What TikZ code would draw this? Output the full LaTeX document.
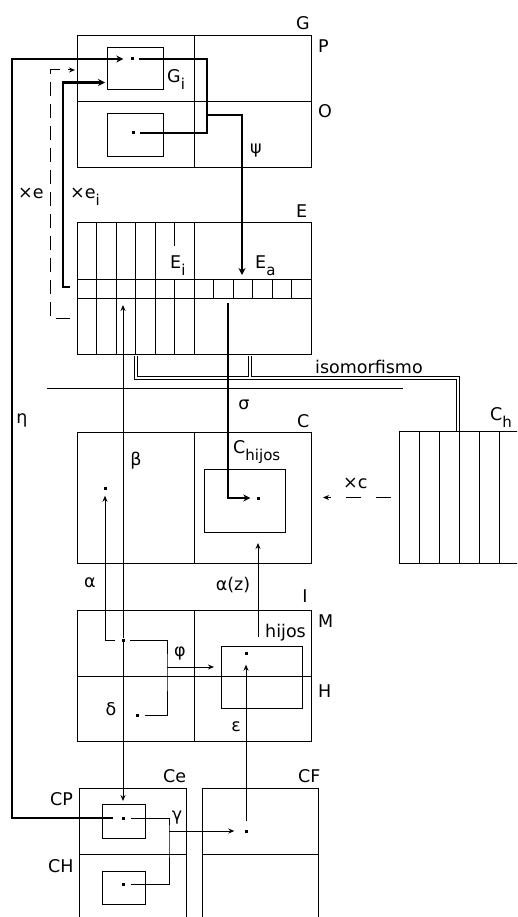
\documentclass[tikz,border=0pt]{standalone}
\usepackage{fontspec}
\setmainfont{DejaVu Sans}
\usetikzlibrary{arrows.meta,positioning,calc}
\newcommand{\lowtxt}[1]{\raisebox{-7pt}{\fontsize{15}{15}\selectfont #1}}
\tikzset{
  thinBox/.style={draw, line width=1pt, inner sep=0pt, anchor=north west},
  dotMark/.style={fill, rectangle, minimum size=3pt, inner sep=0pt},
  thinLine/.style={line width=1pt},
  thinArrow/.style={-{Stealth[length=6pt,width=5pt]}, line width=1pt},
  thickLine/.style={line width=2.6pt},
  thickArrow/.style={-{Stealth[length=7pt,width=7pt]}, line width=2.6pt},
  dashArrow/.style={-{Stealth[length=6pt,width=5pt]}, line width=1pt, dash pattern=on 14pt off 8pt},
  isoLine/.style={double, double distance=1.8pt, line width=0.9pt},
  boxLabel/.style={font=\fontsize{17.5}{20}\selectfont, inner sep=0pt, anchor=base west},
  greekLabel/.style={font=\fontsize{17.5}{20}\selectfont, inner sep=0pt}
}
\begin{document}
\begin{tikzpicture}[x=1pt, y=-1pt]
  \fill[white] (0,0) rectangle (517,917);
  \useasboundingbox (0,0) rectangle (517,917);
  \clip (0,0) rectangle (517,917);

  % bend points
  \coordinate (etaX) at (12,59);
  \coordinate (psiX) at (207,115);
  \coordinate (Ea) at (242,275);
  \coordinate (eiS) at (70,287);
  \coordinate (eiX) at (63,287);
  \coordinate (eS) at (70,318);
  \coordinate (eX) at (50,318);
  \coordinate (isoRow) at (0,378);
  \coordinate (sepL) at (47,388);
  \coordinate (sepR) at (403,388);
  \coordinate (sigS) at (228,303);
  \coordinate (betaT) at (123,305);
  \coordinate (phiX) at (167,667);
  \coordinate (hijS) at (258,637);
  \coordinate (gamX) at (169,831);

  % outer boxes
  \node[thinBox, minimum width=234pt, minimum height=132pt] (G) at (77,35) {};
  \node[thinBox, minimum width=234pt, minimum height=132pt] (E) at (77,222) {};
  \node[thinBox, minimum width=234pt, minimum height=131pt] (C) at (77,432) {};
  \node[thinBox, minimum width=234pt, minimum height=131pt] (I) at (77,610) {};
  \node[thinBox, minimum width=107pt, minimum height=150pt] (Ce) at (79,788) {};
  \node[thinBox, minimum width=116pt, minimum height=150pt] (CF) at (202,788) {};
  \node[thinBox, minimum width=140pt, minimum height=132pt] (Ch) at (399,431) {};

  % isomorfismo
  \coordinate (isoA) at ([xshift=59pt]E.south west);
  \coordinate (isoB) at ([xshift=59pt]Ch.north west);
  \coordinate (isoC) at ([xshift=173pt]E.south west);
  \draw[isoLine, shorten <=0.5pt, shorten >=0.5pt] (isoA) -- (isoA |- isoRow) -| (isoB);
  \draw[isoLine, shorten <=0.5pt, shorten >=1.4pt] (isoC) -- (isoC |- isoRow);

  % dividers
  \draw[thinLine] (G.north) -- (G.south) (G.west) -- (G.east);
  \draw[thinLine] (C.north) -- (C.south);
  \draw[thinLine] (I.north) -- (I.south) (I.west) -- (I.east);
  \draw[thinLine] ([yshift=-66pt]Ce.north west) -- ([yshift=-66pt]Ce.north east);
  \draw[thinLine] ([yshift=-66pt]CF.north west) -- ([yshift=-66pt]CF.north east);
  \draw[thinLine] ([yshift=9.5pt]E.west) -- ([yshift=9.5pt]E.east)
                  ([yshift=-9.5pt]E.west) -- ([yshift=-9.5pt]E.east);
  \foreach \k in {1,2,3,4,6}
    \draw[thinLine] ([xshift=\k*19.5pt]E.north west) -- ([xshift=\k*19.5pt]E.south west);
  \draw[thinLine] ([xshift=97.5pt]E.north west) -- ++(0,24)
                  ([xshift=97.5pt,yshift=9.5pt]E.west) -- ([xshift=97.5pt]E.south west);
  \foreach \k in {7,...,11}
    \draw[thinLine] ([xshift=\k*19.5pt,yshift=9.5pt]E.west) -- ([xshift=\k*19.5pt,yshift=-9.5pt]E.west);
  \foreach \k in {1,...,5}
    \draw[thinLine] ([xshift=\k*20pt]Ch.north west) -- ([xshift=\k*20pt]Ch.south west);

  % inner boxes
  \node[thinBox, minimum width=56pt, minimum height=42pt] (Gi) at (107,47) {};
  \node[thinBox, minimum width=56pt, minimum height=43pt] (Go) at (107,113) {};
  \node[thinBox, minimum width=81pt, minimum height=63pt] (Chij) at (204,469) {};
  \node[thinBox, minimum width=81pt, minimum height=62pt] (Ih) at (221,646) {};
  \node[thinBox, minimum width=43pt, minimum height=34pt] (CPi) at (102,804) {};
  \node[thinBox, minimum width=43pt, minimum height=33pt] (CHi) at (102,871) {};

  % dots
  \node[dotMark] (dGi) at (132,59) {};
  \node[dotMark] (dGo) at (133,133) {};
  \node[dotMark] (dCa) at (105,488) {};
  \node[dotMark] (dChij) at (258,498) {};
  \node[dotMark] (dM) at (123,640) {};
  \node[dotMark] (dH) at (137,715) {};
  \node[dotMark] (dI) at (246,653) {};
  \node[dotMark] (dCP) at (123,818) {};
  \node[dotMark] (dCH) at (123,884) {};
  \node[dotMark] (dCF) at (246,831) {};

  % thick connectors
  \draw[thickArrow, shorten <=8pt, shorten >=7pt] (dCP) -| (etaX) -- (dGi);
  \draw[thickLine, shorten <=5pt, shorten >=5pt] (dGo) -| (psiX) |- (dGi);
  \draw[thickArrow] (psiX) -| (Ea);
  \draw[thickArrow] (eiS) -- (eiX) |- ([xshift=-2pt,yshift=-14pt]Gi.west);
  \draw[dashArrow] (eS) -- (eX) |- ([xshift=-2pt,yshift=-35pt]G.north west);
  \draw[thickArrow, shorten >=6pt] (sigS) |- (dChij);
  \draw[thinLine] (sepL) -- (sepR);
  \coordinate (xcT) at ([xshift=11pt]C.east);
  \draw[dashArrow, dash pattern=on 15pt off 15pt, dash phase=22pt] (Ch.west) -- (Ch.west -| xcT);

  % thin connectors
  \draw[thinArrow, shorten >=6pt] ([xshift=-8pt]dM.center) -| (dCa);
  \draw[thinArrow] (dM) -- (betaT);
  \draw[thinArrow, shorten >=3pt] (dM) -- (dM |- CPi.north);
  \draw[thinLine] ([xshift=7pt]dM.center) -| (phiX) |- ([xshift=8pt]dH.center);
  \draw[thinArrow, shorten >=7pt] (phiX) -- (phiX -| Ih.west);
  \draw[thinArrow, shorten >=10pt] (hijS) -- (hijS |- Chij.south);
  \draw[thinArrow, shorten <=8pt, shorten >=10pt] (dCF) -- (dI);
  \draw[thinLine] ([xshift=8pt]dCP.center) -| (gamX) |- ([xshift=8pt]dCH.center);
  \draw[thinArrow, shorten >=10pt] (gamX) -- (dCF);

  % labels
  \node[boxLabel] (lG) at (296,30) {G};
  \node[boxLabel] (lP) at (318,53) {P};
  \node[boxLabel] (lO) at (318,118) {O};
  \node[boxLabel] (lGi) at (167,83) {G\lowtxt{i}};
  \node[greekLabel] (lPsi) at (256,151) {ψ};
  \node[boxLabel] (lXe) at (18,199) {×e};
  \node[boxLabel] (lXei) at (70,199) {×e\lowtxt{i}};
  \node[boxLabel] (lE) at (296,218) {E};
  \node[boxLabel] (lEi) at (170,268) {E\lowtxt{i}};
  \node[boxLabel] (lEa) at (255,268) {E\lowtxt{a}};
  \node[boxLabel] (lIso) at (315,373) {isomorfismo};
  \node[greekLabel] (lSigma) at (244,405) {σ};
  \node[greekLabel] (lEta) at (22,420) {η};
  \node[boxLabel] (lC) at (297,427) {C};
  \node[boxLabel] (lChij) at (233,453) {C\lowtxt{hijos}};
  \node[greekLabel] (lBeta) at (136,461) {β};
  \node[boxLabel] (lCh) at (490,420) {C\lowtxt{h}};
  \node[boxLabel] (lXc) at (343,488) {×c};
  \node[greekLabel] (lAlpha) at (90,583) {α};
  \node[greekLabel] (lAlz) at (233,585) {α(z)};
  \node[greekLabel] (lI) at (305,596) {I};
  \node[boxLabel] (lM) at (318,627) {M};
  \node[boxLabel] (lHij) at (265,637) {hijos};
  \node[greekLabel] (lPhi) at (180,653) {φ};
  \node[boxLabel] (lH) at (318,697) {H};
  \node[greekLabel] (lDelta) at (111,709) {δ};
  \node[greekLabel] (lEps) at (236,727) {ε};
  \node[boxLabel] (lCe) at (163,782) {Ce};
  \node[boxLabel] (lCF) at (298,782) {CF};
  \node[boxLabel] (lCP) at (50,805) {CP};
  \node[greekLabel] (lGamma) at (177,818) {γ};
  \node[boxLabel] (lCH) at (48,872) {CH};
\end{tikzpicture}
\end{document}
